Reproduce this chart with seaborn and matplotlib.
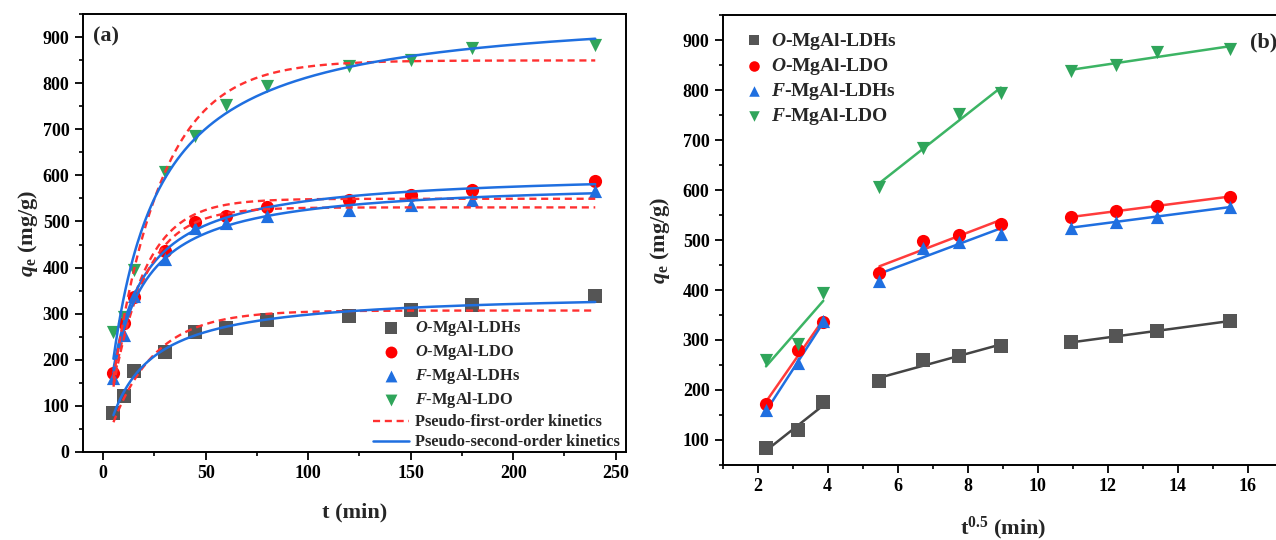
import numpy as np
import pandas as pd
import matplotlib
matplotlib.use("Agg")
import matplotlib.pyplot as plt
import seaborn as sns
from matplotlib.ticker import MultipleLocator

# ---------------- data ----------------
t_min = [5, 10, 15, 30, 45, 60, 80, 120, 150, 180, 240]
series_names = ["$\\mathbfit{O}$-MgAl-LDHs", "$\\mathbfit{O}$-MgAl-LDO",
                "$\\mathbfit{F}$-MgAl-LDHs", "$\\mathbfit{F}$-MgAl-LDO"]
q_O_LDHs = [83, 120, 175, 217, 260, 268, 287, 295, 308, 318, 338]
q_O_LDO = [172, 280, 335, 435, 498, 511, 532, 546, 558, 568, 587]
q_F_LDHs = [160, 253, 338, 418, 485, 497, 513, 525, 536, 547, 566]
q_F_LDO = [260, 292, 395, 607, 685, 752, 795, 838, 851, 876, 883]
# segments of the intra-particle diffusion plot (index ranges into t_min)
segments = [(0, 3), (3, 7), (7, 11)]

marker_list = ["s", "o", "^", "v"]
marker_colors = ["#555555", "#ff0000", "#1f6fe0", "#2fa55a"]
line_colors_b = ["#444444", "#ff3b3b", "#1f6fe0", "#3cb464"]
pfo_color = "#ff3030"
pso_color = "#1f6fe0"

all_q = [q_O_LDHs, q_O_LDO, q_F_LDHs, q_F_LDO]

# ---------------- style ----------------
sns.set_theme(style="ticks")
plt.rcParams["font.family"] = ["Liberation Serif", "DejaVu Serif"]
plt.rcParams["font.weight"] = "bold"
plt.rcParams["mathtext.fontset"] = "custom"
plt.rcParams["mathtext.rm"] = "Liberation Serif:bold"
plt.rcParams["mathtext.it"] = "Liberation Serif:italic:bold"
plt.rcParams["mathtext.bf"] = "Liberation Serif:bold"
plt.rcParams["mathtext.bfit"] = "Liberation Serif:italic:bold"
plt.rcParams["axes.linewidth"] = 1.4

fig = plt.figure(figsize=(12.76, 5.40), dpi=100)
axa = fig.add_axes([0.0648, 0.1635, 0.4258, 0.8100])
axb = fig.add_axes([0.5664, 0.1389, 0.4389, 0.8333])

t_arr = np.asarray(t_min, dtype=float)


def fit_pfo(t, q):
    best = None
    for k in np.logspace(-3, 0, 4000):
        f = 1 - np.exp(-k * t)
        qe = np.sum(q * f) / np.sum(f * f)
        sse = np.sum((q - qe * f) ** 2)
        if best is None or sse < best[0]:
            best = (sse, qe, k)
    return best[1], best[2]


def fit_pso(t, q):
    best = None
    for b in np.logspace(-4, 0, 4000):
        f = t / (1 + b * t)
        a = np.sum(q * f) / np.sum(f * f)
        sse = np.sum((q - a * f) ** 2)
        if best is None or sse < best[0]:
            best = (sse, a, b)
    a, b = best[1], best[2]
    qe = a / b
    k2 = b / qe
    return qe, k2


tt = np.linspace(5, 240, 400)
for i, q in enumerate(all_q):
    sns.scatterplot(x=t_min, y=q, ax=axa, marker=marker_list[i], color=marker_colors[i],
                    s=90, linewidth=0, zorder=3, label=series_names[i])
for i, q in enumerate(all_q):
    qa = np.asarray(q, dtype=float)
    qe1, k1 = fit_pfo(t_arr, qa)
    qe2, k2 = fit_pso(t_arr, qa)
    y1 = qe1 * (1 - np.exp(-k1 * tt))
    y2 = qe2 ** 2 * k2 * tt / (1 + qe2 * k2 * tt)
    sns.lineplot(x=tt, y=y1, ax=axa, color=pfo_color, linestyle=(0, (3, 2)), lw=1.7,
                 zorder=4, label="Pseudo-first-order kinetics" if i == 0 else "_nolegend_")
    sns.lineplot(x=tt, y=y2, ax=axa, color=pso_color, lw=1.8, zorder=4,
                 label="Pseudo-second-order kinetics" if i == 0 else "_nolegend_")

axa.set_xlim(-10, 255)
axa.set_ylim(0, 950)
axa.xaxis.set_major_locator(MultipleLocator(50))
axa.xaxis.set_minor_locator(MultipleLocator(25))
axa.yaxis.set_major_locator(MultipleLocator(100))
axa.yaxis.set_minor_locator(MultipleLocator(50))
axa.set_xlabel("t (min)", fontsize=16, fontweight="bold")
axa.set_ylabel("$\\mathbfit{q}_{\\mathbf{e}}$ (mg/g)", fontsize=16, fontweight="bold")
axa.xaxis.set_label_coords(0.5, -0.115)
axa.yaxis.set_label_coords(-0.079, 0.5)
axa.text(0.019, 0.949, "(a)", transform=axa.transAxes, fontsize=16, fontweight="bold",
         ha="left", va="center")
h, l = axa.get_legend_handles_labels()
axa.legend(h, l, loc="lower right", bbox_to_anchor=(1.0, -0.012), frameon=False,
           fontsize=11.8, borderaxespad=0.0, handlelength=2.2, handletextpad=0.35,
           labelspacing=0.25, markerscale=0.9)

# ---------------- panel b ----------------
sqrt_t = np.sqrt(t_arr)
for i, q in enumerate(all_q):
    qa = np.asarray(q, dtype=float)
    for (s0, s1) in segments:
        sns.regplot(x=sqrt_t[s0:s1], y=qa[s0:s1], ax=axb, scatter=False, ci=None,
                    truncate=True, color=line_colors_b[i], line_kws={"lw": 1.8, "zorder": 2})
for i, q in enumerate(all_q):
    sns.scatterplot(x=sqrt_t, y=q, ax=axb, marker=marker_list[i], color=marker_colors[i],
                    s=90, linewidth=0, zorder=3, label=series_names[i])

axb.set_xlim(1, 17)
axb.set_ylim(50, 950)
axb.xaxis.set_major_locator(MultipleLocator(2))
axb.xaxis.set_minor_locator(MultipleLocator(1))
axb.yaxis.set_major_locator(MultipleLocator(100))
axb.yaxis.set_minor_locator(MultipleLocator(50))
axb.set_xlabel("t$^{\\mathbf{0.5}}$ (min)", fontsize=16, fontweight="bold")
axb.set_ylabel("$\\mathbfit{q}_{\\mathbf{e}}$ (mg/g)", fontsize=16, fontweight="bold")
axb.xaxis.set_label_coords(0.5, -0.111)
axb.yaxis.set_label_coords(-0.0905, 0.5)
axb.text(0.9416, 0.94, "(b)", transform=axb.transAxes, fontsize=16, fontweight="bold",
         ha="left", va="center")
hb, lb = axb.get_legend_handles_labels()
axb.legend(hb, lb, loc="upper left", frameon=False, fontsize=14, borderaxespad=0.4,
           handlelength=1.6, handletextpad=0.1, labelspacing=0.22, markerscale=0.8)

for ax in (axa, axb):
    for sp in ax.spines.values():
        sp.set_color("black")
        sp.set_linewidth(1.4)
    ax.tick_params(which="major", direction="out", length=5.5, width=1.3, labelsize=13,
                   pad=4, colors="black")
    ax.tick_params(which="minor", direction="out", length=3, width=1.2, colors="black")
    for lab in ax.get_xticklabels() + ax.get_yticklabels():
        lab.set_fontweight("bold")

fig.savefig("out.png", dpi=100)
